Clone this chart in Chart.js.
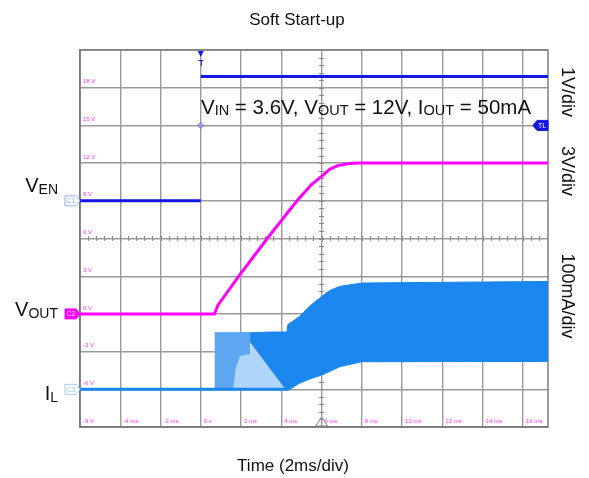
<!DOCTYPE html>
<html>
<head>
<meta charset="utf-8">
<script src="https://cdn.jsdelivr.net/npm/chart.js@4.4.1/dist/chart.umd.min.js"></script>
<style>
  body { margin: 0; background: #fff; }
  canvas { display: block; }
</style>
</head>
<body>
<canvas id="scope" width="589" height="478"></canvas>
<script>
// time axis in ms, 2ms/div
const xTickLabels = ['', '-4 ms', '-2 ms', '0 s', '2 ms', '4 ms', '6 ms', '8 ms', '10 ms', '12 ms', '14 ms', '16 ms'];
// CH2 scale 3V/div, labels from bottom to top
const yTickLabels = ['-9 V', '-6 V', '-3 V', '0 V', '3 V', '6 V', '9 V', '12 V', '15 V', '18 V', ''];

// VEN (CH1, 1V/div)
const enTime = [-6, 0, 0, 0, 17.25];
const enVolt = [0, 0, null, 3.3, 3.3];

// VOUT (CH2, 3V/div)
const outTime = [-6, 0.68, 0.85, 1.89, 3.3, 4.78, 5.5, 6.0, 6.4, 6.8, 7.3, 7.8, 17.25];
const outVolt = [0, 0, 0.7, 3.0, 6.0, 9.0, 10.3, 10.95, 11.5, 11.8, 11.95, 12, 12];

// IL (CH3, 100mA/div) - idle line before switching
const ilIdleTime = [-6, 4.3];
const ilIdle = [0, 0];
// first burst of pulses (envelope top)
const burstTime = [0.68, 2.45];
const burstTop = [150, 150];
// lighter part under the pulses
const lightTime = [1.6, 1.75, 1.95, 2.3, 2.45, 2.5, 4.3];
const lightTop = [0, 60, 88, 92, 92, 150, 150];
// switching envelope
const rippleTime = [2.45, 3.0, 3.5, 4.0, 4.28, 4.32, 4.9, 5.4, 6.0, 6.4, 6.9, 8.0, 17.25];
const rippleTop = [150, 151, 152, 152, 152, 171, 193, 220, 246, 262, 273, 282, 286];
const rippleBottom = [127, 88, 52, 17, -3, -3, 16, 27, 38, 47, 60, 73, 74];

const pts = (xs, ys) => xs.map((x, i) => ({ x: x, y: ys[i] }));

const BLUE = '#1515e6';
const MAGENTA = '#ff00ff';
const IL_BLUE = '#1c86ef';
const FONT = '"Liberation Sans", Arial, sans-serif';

function richText(ctx, parts, x, y, align) {
  let w = 0;
  for (const p of parts) {
    ctx.font = p[1] + 'px ' + FONT;
    w += ctx.measureText(p[0]).width;
  }
  let cx = align === 'right' ? x - w : (align === 'center' ? x - w / 2 : x);
  ctx.textAlign = 'left';
  ctx.textBaseline = 'alphabetic';
  for (const p of parts) {
    ctx.font = p[1] + 'px ' + FONT;
    ctx.fillText(p[0], cx, y + (p[2] || 0));
    cx += ctx.measureText(p[0]).width;
  }
}

function tag(ctx, x, y, label, fill, stroke, textColor, pointLeft) {
  const w = 15, h = 10;
  ctx.beginPath();
  if (!pointLeft) {
    ctx.moveTo(x - w, y - h / 2);
    ctx.lineTo(x - 4, y - h / 2);
    ctx.lineTo(x, y);
    ctx.lineTo(x - 4, y + h / 2);
    ctx.lineTo(x - w, y + h / 2);
  } else {
    ctx.moveTo(x + w, y - h / 2);
    ctx.lineTo(x + 4, y - h / 2);
    ctx.lineTo(x, y);
    ctx.lineTo(x + 4, y + h / 2);
    ctx.lineTo(x + w, y + h / 2);
  }
  ctx.closePath();
  if (fill) { ctx.fillStyle = fill; ctx.fill(); }
  if (stroke) { ctx.strokeStyle = stroke; ctx.lineWidth = 1; ctx.stroke(); }
  ctx.fillStyle = textColor;
  ctx.font = '7px ' + FONT;
  ctx.textAlign = 'center';
  ctx.textBaseline = 'middle';
  ctx.fillText(label, pointLeft ? x + 9 : x - 9, y + 0.5);
}

const scopeDecor = {
  id: 'scopeDecor',
  beforeDatasetsDraw(chart) {
    const ctx = chart.ctx;
    const area = chart.chartArea;
    const x = chart.scales.x, y = chart.scales.y;
    ctx.save();
    // screen frame
    ctx.strokeStyle = '#777';
    ctx.lineWidth = 1.4;
    ctx.strokeRect(area.left, area.top, area.right - area.left, area.bottom - area.top);
    ctx.strokeStyle = '#8a8a8a';
    ctx.lineWidth = 1;
    // minor ticks on the centre lines
    const cx = x.getPixelForValue(6);
    for (let v = -9; v <= 21.01; v += 0.6) {
      const py = Math.round(y.getPixelForValue(v)) + 0.5;
      ctx.beginPath(); ctx.moveTo(cx - 2.5, py); ctx.lineTo(cx + 2.5, py); ctx.stroke();
    }
    const cy = y.getPixelForValue(6);
    for (let t = -6; t <= 17.25; t += 0.4) {
      const px = Math.round(x.getPixelForValue(t)) + 0.5;
      ctx.beginPath(); ctx.moveTo(px, cy - 2.5); ctx.lineTo(px, cy + 2.5); ctx.stroke();
    }
    // time labels inside the screen
    ctx.fillStyle = '#ff33ff';
    ctx.font = '6px ' + FONT;
    ctx.textAlign = 'left';
    ctx.textBaseline = 'middle';
    x.ticks.forEach(tk => {
      const i = Math.round((tk.value + 6) / 2);
      if (Math.abs(tk.value - (i * 2 - 6)) > 1e-6) return;
      const lab = xTickLabels[i];
      if (lab) ctx.fillText(lab, x.getPixelForValue(tk.value) + 3, area.bottom - 6);
    });
    ctx.restore();
  },
  afterDraw(chart) {
    const ctx = chart.ctx;
    const area = chart.chartArea;
    const x = chart.scales.x, y = chart.scales.y, yEN = chart.scales.yEN, yIL = chart.scales.yIL;
    ctx.save();
    ctx.fillStyle = '#111';
    // title and time label
    ctx.font = '17px ' + FONT;
    ctx.textAlign = 'center';
    ctx.textBaseline = 'alphabetic';
    ctx.fillText('Soft Start-up', 297, 25);
    ctx.fillText('Time (2ms/div)', 293, 471);

    // channel names on the left
    richText(ctx, [['V', 20], ['EN', 14, 2]], 58, 192, 'right');
    richText(ctx, [['V', 20], ['OUT', 14, 2]], 58, 316, 'right');
    richText(ctx, [['I', 20], ['L', 14, 2]], 58, 400, 'right');

    // test conditions
    richText(ctx, [['V', 20.5], ['IN', 14.5, 1], [' = 3.6V, V', 20.5], ['OUT', 14.5, 1], [' = 12V, I', 20.5], ['OUT', 14.5, 1], [' = 50mA', 20.5]], 201, 114, 'left');

    // volts/div labels on the right
    ctx.font = '18px ' + FONT;
    ctx.textAlign = 'center';
    ctx.textBaseline = 'middle';
    [['1V/div', 92], ['3V/div', 171], ['100mA/div', 296]].forEach(l => {
      ctx.save();
      ctx.translate(567, l[1]);
      ctx.rotate(Math.PI / 2);
      ctx.fillText(l[0], 0, 0);
      ctx.restore();
    });

    // channel markers
    tag(ctx, area.left, yEN.getPixelForValue(0), 'C1', '#fff', '#8fb0ff', '#8fb0ff', false);
    tag(ctx, area.left, y.getPixelForValue(0), 'C2', MAGENTA, MAGENTA, '#ffd6ff', false);
    tag(ctx, area.left, yIL.getPixelForValue(0), 'C3', '#fff', '#99ccff', '#99ccff', false);
    // trigger level tag
    tag(ctx, area.right - 15, yEN.getPixelForValue(2), 'TL', BLUE, BLUE, '#fff', true);

    // trigger marker at top
    const tx = x.getPixelForValue(0);
    ctx.fillStyle = BLUE;
    ctx.beginPath();
    ctx.moveTo(tx - 3, area.top + 1); ctx.lineTo(tx + 3, area.top + 1); ctx.lineTo(tx, area.top + 7);
    ctx.closePath(); ctx.fill();
    ctx.strokeStyle = BLUE; ctx.lineWidth = 1;
    ctx.beginPath();
    ctx.moveTo(tx - 2.5, area.top + 10.5); ctx.lineTo(tx + 2.5, area.top + 10.5);
    ctx.moveTo(tx + 0.5, area.top + 10); ctx.lineTo(tx + 0.5, area.top + 16);
    ctx.stroke();
    // trigger level diamond
    const dy = yEN.getPixelForValue(2);
    ctx.strokeStyle = '#5a5aff';
    ctx.beginPath();
    ctx.moveTo(tx, dy - 3); ctx.lineTo(tx + 3, dy); ctx.lineTo(tx, dy + 3); ctx.lineTo(tx - 3, dy); ctx.closePath();
    ctx.stroke();

    // trigger position at bottom
    const px = x.getPixelForValue(6);
    ctx.strokeStyle = '#888';
    ctx.beginPath();
    ctx.moveTo(px, area.bottom - 10); ctx.lineTo(px + 6, area.bottom - 1); ctx.lineTo(px - 6, area.bottom - 1); ctx.closePath();
    ctx.stroke();
    ctx.restore();
  }
};

new Chart(document.getElementById('scope'), {
  type: 'line',
  data: {
    datasets: [
      { data: pts(enTime, enVolt), yAxisID: 'yEN', borderColor: BLUE, borderWidth: 3, spanGaps: false, order: 1 },
      { data: pts(outTime, outVolt), yAxisID: 'y', borderColor: MAGENTA, borderWidth: 3, order: 2 },
      { data: pts(ilIdleTime, ilIdle), yAxisID: 'yIL', borderColor: IL_BLUE, borderWidth: 3, order: 3 },
      { data: pts(rippleTime, rippleBottom), yAxisID: 'yIL', borderColor: IL_BLUE, borderWidth: 1, order: 5 },
      { data: pts(rippleTime, rippleTop), yAxisID: 'yIL', borderColor: IL_BLUE, borderWidth: 1, order: 4,
        fill: '-1', backgroundColor: IL_BLUE },
      { data: pts(lightTime, lightTop), yAxisID: 'yIL', borderColor: 'rgba(0,0,0,0)', borderWidth: 0, order: 6,
        fill: 'origin', backgroundColor: '#b0d5fa' },
      { data: pts(burstTime, burstTop), yAxisID: 'yIL', borderColor: '#4d9ff0', borderWidth: 1, order: 7,
        fill: 'origin', backgroundColor: '#5ea6f2' }
    ]
  },
  options: {
    responsive: false,
    animation: false,
    events: [],
    layout: { padding: { left: 74, right: 41, top: 50, bottom: 51 } },
    elements: { point: { radius: 0 }, line: { tension: 0 } },
    plugins: { legend: { display: false }, tooltip: { enabled: false }, title: { display: false } },
    scales: {
      x: {
        type: 'linear', min: -6, max: 17.25,
        ticks: { display: false, stepSize: 2, includeBounds: false },
        grid: { color: '#9a9a9a', lineWidth: 1.4, drawTicks: false },
        border: { display: true, color: '#777', width: 1.4 }
      },
      y: {
        position: 'left', min: -9, max: 21,
        ticks: {
          stepSize: 3, mirror: true, padding: 3, labelOffset: -6, color: '#ff33ff',
          font: { size: 6, family: FONT },
          callback: (v, i) => yTickLabels[i]
        },
        grid: { color: '#9a9a9a', lineWidth: 1.4, drawTicks: false },
        border: { display: true, color: '#777', width: 1.4 }
      },
      yEN: { display: false, min: -6, max: 4 },
      yIL: { display: false, min: -100, max: 900 }
    }
  },
  plugins: [scopeDecor]
});
</script>
</body>
</html>
